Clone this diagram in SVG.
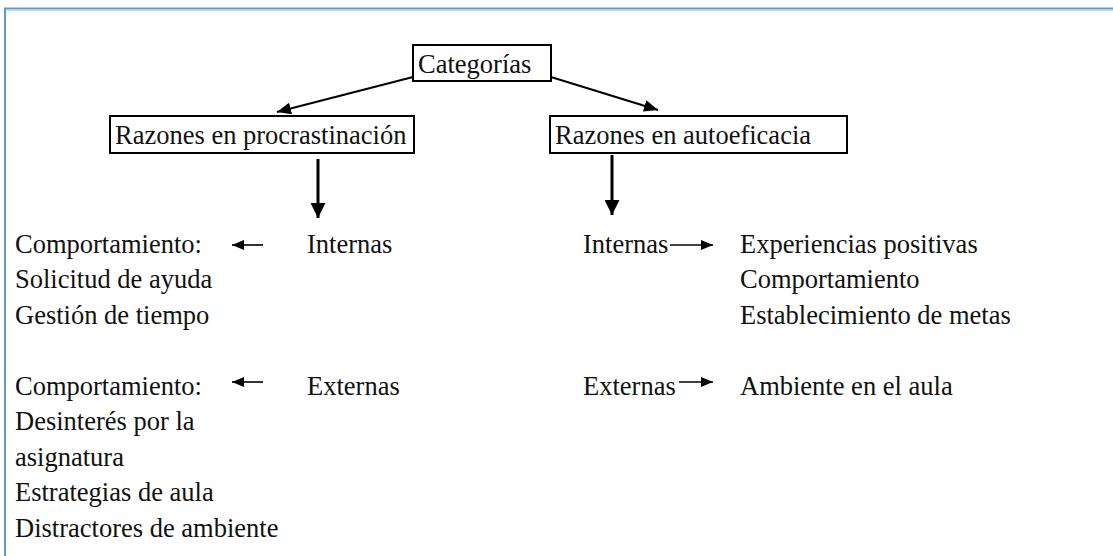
<svg xmlns="http://www.w3.org/2000/svg" width="1113" height="556" viewBox="0 0 1113 556">
<style>
text{font-family:'Liberation Serif','Times New Roman',serif;font-size:26.5px;fill:#111}
.box{fill:#fff;stroke:#000;stroke-width:2}
.thin{stroke:#000;stroke-width:2;fill:none}
.side{stroke:#000;stroke-width:1.6;fill:none}
.thick{stroke:#000;stroke-width:3;fill:none}
</style>
<defs>
<marker id="ah" markerUnits="userSpaceOnUse" markerWidth="14" markerHeight="12" refX="14" refY="6" orient="auto"><path d="M0,0 L14,6 L0,12 z" fill="#000"/></marker>
<marker id="ahs" markerUnits="userSpaceOnUse" markerWidth="12" markerHeight="10" refX="12" refY="5" orient="auto"><path d="M0,0 L12,5 L0,10 z" fill="#000"/></marker>
<marker id="ahb" markerUnits="userSpaceOnUse" markerWidth="15" markerHeight="15" refX="15" refY="7.5" orient="auto"><path d="M0,0 L15,7.5 L0,15 z" fill="#000"/></marker>
</defs>
<rect width="1113" height="556" fill="#fff"/>
<g id="frame">
<line x1="4" y1="8.5" x2="1113" y2="8.5" stroke="#5b9bd5" stroke-width="2"/>
<line x1="6" y1="10.5" x2="1113" y2="10.5" stroke="#c9dcef" stroke-width="1"/>
<line x1="5" y1="8" x2="5" y2="556" stroke="#5b9bd5" stroke-width="2"/>
</g>
<g id="connectors">
<line class="thin" x1="413" y1="77" x2="277" y2="112" marker-end="url(#ah)"/>
<line class="thin" x1="551" y1="77" x2="658" y2="110" marker-end="url(#ah)"/>
<line class="thick" x1="318" y1="159" x2="318" y2="218" marker-end="url(#ahb)"/>
<line class="thick" x1="612" y1="155" x2="612" y2="215" marker-end="url(#ahb)"/>
<line class="side" x1="263" y1="245" x2="232" y2="245" marker-end="url(#ahs)"/>
<line class="side" x1="263" y1="382" x2="232" y2="382" marker-end="url(#ahs)"/>
<line class="side" x1="670" y1="245" x2="713" y2="245" marker-end="url(#ahs)"/>
<line class="side" x1="679" y1="382" x2="713" y2="382" marker-end="url(#ahs)"/>
</g>
<g id="categorias">
<rect class="box" x="413" y="45" width="138" height="36"/>
<text x="418" y="73">Categorías</text>
</g>
<g id="razones-procrastinacion">
<rect class="box" x="110" y="116" width="304" height="37"/>
<text x="115" y="144">Razones en procrastinación</text>
</g>
<g id="razones-autoeficacia">
<rect class="box" x="550" y="116" width="297" height="37"/>
<text x="555" y="144">Razones en autoeficacia</text>
</g>
<g id="proc-internas">
<text x="307" y="253">Internas</text>
</g>
<g id="proc-internas-items">
<text x="15" y="253">Comportamiento:</text>
<text x="15" y="288">Solicitud de ayuda</text>
<text x="15" y="324">Gestión de tiempo</text>
</g>
<g id="proc-externas">
<text x="307" y="395">Externas</text>
</g>
<g id="proc-externas-items">
<text x="15" y="395">Comportamiento:</text>
<text x="15" y="430">Desinterés por la</text>
<text x="15" y="466">asignatura</text>
<text x="15" y="501">Estrategias de aula</text>
<text x="15" y="537">Distractores de ambiente</text>
</g>
<g id="auto-internas">
<text x="583" y="253">Internas</text>
</g>
<g id="auto-internas-items">
<text x="740" y="253">Experiencias positivas</text>
<text x="740" y="288">Comportamiento</text>
<text x="740" y="324">Establecimiento de metas</text>
</g>
<g id="auto-externas">
<text x="583" y="395">Externas</text>
</g>
<g id="auto-externas-items">
<text x="740" y="395">Ambiente en el aula</text>
</g>
</svg>
